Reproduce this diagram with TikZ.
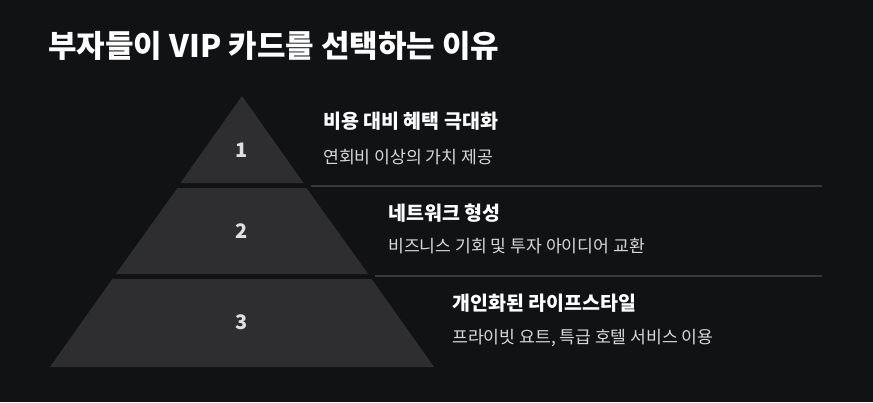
\documentclass[tikz,border=0pt]{standalone}
\usepackage{fontspec}
\setmainfont{Noto Sans CJK KR}
\usetikzlibrary{positioning}
\definecolor{bg}{HTML}{111214}
\definecolor{tier}{HTML}{2E2E30}
\definecolor{rule}{HTML}{38383A}
\definecolor{subtext}{HTML}{D8D8D8}
\begin{document}
\begin{tikzpicture}[x=1pt, y=-1pt,
        tierbox/.style={fill=tier, draw=none},
        num/.style={text=white!88!black, font=\fontsize{20}{22}\selectfont\bfseries},
        head/.style={anchor=west, text=white, font=\fontsize{19.5}{21}\selectfont\bfseries, inner sep=0pt},
        sub/.style={anchor=west, text=subtext, font=\fontsize{17.2}{19}\selectfont, inner sep=0pt},
        sep/.style={draw=rule, line width=1.2pt}
    ]
    \fill[bg] (0,0) rectangle (873,402);
    \useasboundingbox (0,0) rectangle (873,402);

    % Title
    \node[anchor=west, text=white, inner sep=0pt, font=\fontsize{31}{34}\selectfont\bfseries] (title) at (48,46) {부자들이 VIP 카드를 선택하는 이유};

    % Pyramid tiers
    \fill[tierbox] (242,96) -- (303.6,183) -- (180.4,183) -- cycle;
    \fill[tierbox] (177.5,188) -- (306.5,188) -- (368.2,274) -- (115.8,274) -- cycle;
    \fill[tierbox] (112.3,279) -- (371.7,279) -- (434,367) -- (50,367) -- cycle;

    \node[num] (n1) at (242,150) {1};
    \node[num] (n2) at (242,231) {2};
    \node[num] (n3) at (242,322) {3};

    % Separators
    \coordinate (s1a) at (311,186); \coordinate (s1b) at (822,186);
    \coordinate (s2a) at (375,276); \coordinate (s2b) at (822,276);
    \draw[sep] (s1a) -- (s1b);
    \draw[sep] (s2a) -- (s2b);

    % Labels
    \node[head] (h1) at (323,121) {비용 대비 혜택 극대화};
    \node[sub] (d1) at (323,157) {연회비 이상의 가치 제공};
    \node[head] (h2) at (388,213) {네트워크 형성};
    \node[sub] (d2) at (388,246) {비즈니스 기회 및 투자 아이디어 교환};
    \node[head] (h3) at (452,303) {개인화된 라이프스타일};
    \node[sub] (d3) at (452,338) {프라이빗 요트, 특급 호텔 서비스 이용};
\end{tikzpicture}
\end{document}
